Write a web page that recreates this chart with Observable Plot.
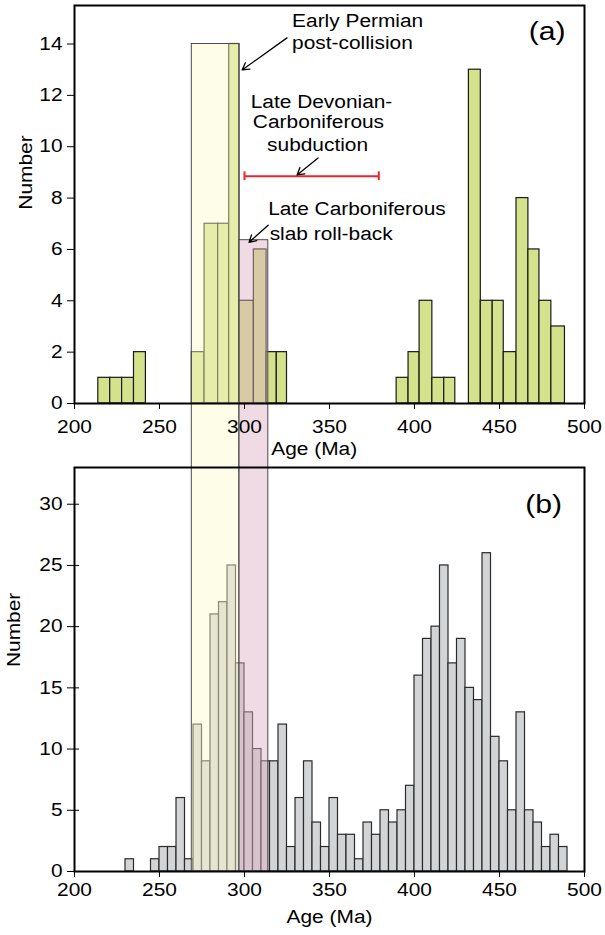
<!DOCTYPE html>
<html>
<head>
<meta charset="utf-8">
<script src="https://cdn.jsdelivr.net/npm/d3@7"></script>
<script src="https://cdn.jsdelivr.net/npm/@observablehq/plot@0.6"></script>
<style>
  html, body { margin: 0; padding: 0; background: #fff; }
  #chart { position: relative; width: 605px; height: 935px; }
  #chart svg { position: absolute; left: 0; overflow: hidden; }
</style>
</head>
<body>
<div id="chart"></div>
<script>
// ---------- data: panel (a) ----------
const aStart = [214, 221, 228, 235, 269, 276.5, 284.5, 291, 297, 305.5, 313, 319, 389.5, 396.5, 403, 410.5, 417.5, 432, 439, 446, 452.5, 460, 467, 473.5, 480.5];
const aEnd   = [221, 228, 235, 242, 276.5, 284.5, 291, 297, 305.5, 313, 319, 325, 396.5, 403, 410.5, 417.5, 424, 439, 446, 452.5, 460, 467, 473.5, 480.5, 488.5];
const aCount = [1, 1, 1, 2, 2, 7, 7, 14, 4, 6, 2, 2, 1, 2, 4, 1, 1, 13, 4, 4, 2, 8, 6, 4, 3];

// ---------- data: panel (b) ----------
const bStart = [230, 245, 250, 255, 260, 265, 270, 275, 280, 285, 290, 295, 300, 305, 310, 315, 320, 325, 330, 335, 340, 345, 350, 355, 360, 365, 370, 375, 380, 385, 390, 395, 400, 405, 410, 415, 420, 425, 430, 435, 440, 445, 450, 455, 460, 465, 470, 475, 480, 485];
const bCount = [1, 1, 2, 2, 6, 1, 12, 9, 21, 22, 25, 17, 13, 10, 9, 9, 12, 2, 6, 9, 4, 2, 6, 3, 3, 1, 4, 3, 5, 4, 5, 7, 16, 19, 20, 25, 17, 19, 15, 14, 26, 11, 9, 5, 13, 5, 4, 2, 3, 2];
const bBinWidth = 5;

// ---------- ticks ----------
const xTicks = [200, 250, 300, 350, 400, 450, 500];
const aTicksY = [0, 2, 4, 6, 8, 10, 12, 14];
const bTicksY = [0, 5, 10, 15, 20, 25, 30];

// ---------- highlighted age windows ----------
const boxStart = [269, 297];
const boxEnd = [297, 314];
const boxTopA = [14, 6.36];
const boxFill = ["#fdfbcc", "#ddafc3"];

// ---------- annotations (panel a) ----------
const subductionRange = [300, 379];
const subductionY = 8.85;
const notesStart = [
  {label: "Early Permian", x: 328, y: 14.66},
  {label: "post-collision", x: 328, y: 13.81},
  {label: "Late Carboniferous", x: 313.9, y: 7.33},
  {label: "slab roll-back", x: 314.8, y: 6.36}
];
const notesMiddle = [
  {label: "Late Devonian-", x: 345.3, y: 11.5},
  {label: "Carboniferous", x: 343.5, y: 10.71},
  {label: "subduction", x: 343.0, y: 9.83}
];
const arrowsA = [
  {x1: 325, y1: 14.24, x2: 298.6, y2: 12.99},
  {x1: 343.3, y1: 9.56, x2: 330.9, y2: 8.9},
  {x1: 313.9, y1: 6.94, x2: 302.7, y2: 6.28}
];

// ---------- layout ----------
const W = 605;
const FONT = "'Liberation Sans', Arial, Helvetica, sans-serif";
const A = {top: 0, height: 465, mt: 5, mb: 62, ydom: [0, 15.5]};
const B = {top: 465, height: 470, mt: 2, mb: 64, ydom: [0, 33]};
const margins = {marginLeft: 74, marginRight: 21};

const aBars = aStart.map((s, i) => ({x1: s, x2: aEnd[i], n: aCount[i]}));
const bBars = bStart.map((s, i) => ({x1: s, x2: s + bBinWidth, n: bCount[i]}));
const boxes = boxStart.map((s, i) => ({x1: s, x2: boxEnd[i], top: boxTopA[i], fill: boxFill[i]}));

function boxMarks(y1, y2) {
  return Plot.rect(boxes, {x1: "x1", x2: "x2", y1, y2, fill: "fill", fillOpacity: 0.45, stroke: "#4a4a4a", strokeWidth: 1});
}

const bottomA = Plot.plot({
  width: W, height: A.height, marginTop: A.mt, marginBottom: A.mb, ...margins,
  x: {domain: [200, 500], axis: null},
  y: {domain: A.ydom, axis: null},
  style: {background: "transparent"},
  marks: [
    Plot.rectY(aBars, {x1: "x1", x2: "x2", y: "n", fill: "#d4e28b", stroke: "#1a1a1a", strokeWidth: 1.2}),
    boxMarks("top", -10)
  ]
});

const bottomB = Plot.plot({
  width: W, height: B.height, marginTop: B.mt, marginBottom: B.mb, ...margins,
  x: {domain: [200, 500], axis: null},
  y: {domain: B.ydom, axis: null},
  style: {background: "transparent"},
  marks: [
    Plot.rectY(bBars.filter(d => d.n > 0), {x1: "x1", x2: "x2", y: "n", fill: "#d3d4d6", stroke: "#2a2a2a", strokeWidth: 1.2}),
    boxMarks(45, 0)
  ]
});

const styleTop = {background: "transparent", fontFamily: FONT, fontSize: "18px", color: "#000"};

const topA = Plot.plot({
  width: W, height: A.height, marginTop: A.mt, marginBottom: A.mb, ...margins,
  x: {domain: [200, 500], ticks: xTicks, tickSize: 6, tickPadding: 11, label: null},
  y: {domain: A.ydom, ticks: aTicksY, tickSize: 7, tickPadding: 5, label: null},
  style: styleTop,
  marks: [
    Plot.frame({stroke: "#000", strokeWidth: 2}),
    Plot.ruleY([subductionY], {x1: subductionRange[0], x2: subductionRange[1], stroke: "#e8262d", strokeWidth: 2}),
    Plot.ruleX(subductionRange, {x: d => d, y1: subductionY - 0.17, y2: subductionY + 0.17, stroke: "#e8262d", strokeWidth: 2}),
    Plot.arrow(arrowsA, {x1: "x1", y1: "y1", x2: "x2", y2: "y2", stroke: "#000", strokeWidth: 1.3, headLength: 9}),
    Plot.text(notesStart, {x: "x", y: "y", text: "label", textAnchor: "start", lineAnchor: "bottom", fontSize: 18, fill: "#000"}),
    Plot.text(notesMiddle, {x: "x", y: "y", text: "label", textAnchor: "middle", lineAnchor: "bottom", fontSize: 18, fill: "#000"}),
    Plot.text(["(a)"], {text: d => d, x: 478, y: 14.16, lineAnchor: "bottom", fontSize: 26, fill: "#000"}),
    Plot.text(["Age (Ma)"], {text: d => d, x: 341, frameAnchor: "bottom", dy: 51, lineAnchor: "bottom", fontSize: 18, fill: "#000"}),
    Plot.text(["Number"], {text: d => d, y: 7.55, frameAnchor: "left", dx: -48, rotate: -90, fontSize: 18, fill: "#000"})
  ]
});

const topB = Plot.plot({
  width: W, height: B.height, marginTop: B.mt, marginBottom: B.mb, ...margins,
  x: {domain: [200, 500], ticks: xTicks, tickSize: 6, tickPadding: 6, label: null},
  y: {domain: B.ydom, ticks: bTicksY, tickSize: 7, tickPadding: 5, label: null},
  style: styleTop,
  marks: [
    Plot.frame({stroke: "#000", strokeWidth: 2}),
    Plot.ruleY(bTicksY.filter(v => v > 0), {x1: 200, x2: 203, stroke: "#000", strokeWidth: 1}),
    Plot.text(["(b)"], {text: d => d, x: 476, y: 29.26, lineAnchor: "bottom", fontSize: 26, fill: "#000"}),
    Plot.text(["Age (Ma)"], {text: d => d, x: 350, frameAnchor: "bottom", dy: 51, lineAnchor: "bottom", fontSize: 18, fill: "#000"}),
    Plot.text(["Number"], {text: d => d, y: 16.7, frameAnchor: "left", dx: -60, rotate: -90, fontSize: 18, fill: "#000"})
  ]
});

const chart = document.getElementById("chart");
[[bottomA, A], [bottomB, B], [topA, A], [topB, B]].forEach(([svg, p]) => {
  svg.style.top = p.top + "px";
  chart.appendChild(svg);
});

// horizontally widen glyphs to match the reference lettering
[topA, topB].forEach(svg => {
  svg.querySelectorAll("text").forEach(t => {
    if (t.querySelector("tspan")) return;
    const L = t.getComputedTextLength();
    if (L > 0) {
      t.setAttribute("textLength", (L * 1.16).toFixed(1));
      t.setAttribute("lengthAdjust", "spacingAndGlyphs");
    }
  });
});
</script>
</body>
</html>
